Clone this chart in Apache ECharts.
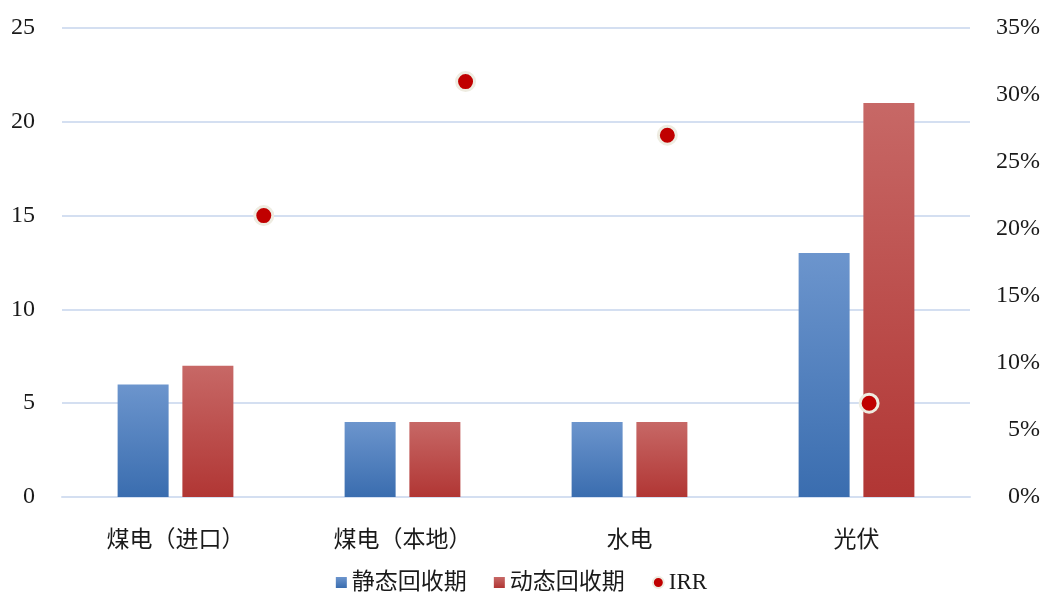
<!DOCTYPE html>
<html>
<head>
<meta charset="utf-8">
<script src="https://cdn.jsdelivr.net/npm/echarts@6/dist/echarts.min.js"></script>
<style>
  html, body { margin: 0; padding: 0; background: #fff; }
  #container { width: 1043px; height: 592px; }
</style>
</head>
<body>
<div id="container"></div>
<script>
// 类别
const categories = ['煤电（进口）', '煤电（本地）', '水电', '光伏'];
// 静态回收期（年）
const staticPayback = [6, 4, 4, 13];
// 动态回收期（年）
const dynamicPayback = [7, 4, 4, 21];
// IRR（%）
const irr = [21, 31, 27, 7];
// IRR 点的横坐标（散点图副横轴 0 ~ 4.5）
const irrX = [1, 2, 3, 4];

const font = '"Liberation Serif", "Times New Roman", "Noto Sans CJK SC", serif';

// 渐变填充
function grad(top, bottom) {
  return new echarts.graphic.LinearGradient(0, 0, 0, 1, [
    { offset: 0, color: top },
    { offset: 1, color: bottom }
  ]);
}

const myChart = echarts.init(document.getElementById('container'));

const option = {
  animation: false,
  textStyle: { fontFamily: font },
  grid: { left: 62, right: 71, top: 28, bottom: 95 },
  legend: {
    bottom: -7,
    left: 'center',
    itemWidth: 11,
    itemHeight: 11,
    itemGap: 27,
    textStyle: { fontFamily: font, fontSize: 23, color: '#1a1a1a' },
    data: [
      { name: '静态回收期', icon: 'rect' },
      { name: '动态回收期', icon: 'rect' },
      { name: 'IRR', icon: 'circle', itemStyle: { color: '#C00000', borderColor: '#EEECE1', borderWidth: 2 } }
    ]
  },
  xAxis: [
    {
      type: 'category',
      data: categories,
      axisLine: { lineStyle: { color: '#D4DFF1', width: 2 } },
      axisTick: { show: false },
      axisLabel: { fontFamily: font, fontSize: 23, color: '#1a1a1a', margin: 32 }
    },
    {
      type: 'value',
      min: 0,
      max: 4.5,
      show: false
    }
  ],
  yAxis: [
    {
      type: 'value',
      min: 0,
      max: 25,
      interval: 5,
      axisLine: { show: false },
      axisTick: { show: false },
      splitLine: { lineStyle: { color: '#D4DFF1', width: 2 } },
      axisLabel: { fontFamily: font, fontSize: 24, color: '#1a1a1a', margin: 27 }
    },
    {
      type: 'value',
      min: 0,
      max: 35,
      interval: 5,
      axisLine: { show: false },
      axisTick: { show: false },
      splitLine: { show: false },
      axisLabel: { fontFamily: font, fontSize: 24, color: '#1a1a1a', margin: 70, align: 'right', formatter: '{value}%' }
    }
  ],
  series: [
    {
      name: '静态回收期',
      type: 'bar',
      data: staticPayback,
      barWidth: 51,
      barGap: '27%',
      itemStyle: { color: grad('#6C95CD', '#3A6DAF') }
    },
    {
      name: '动态回收期',
      type: 'bar',
      data: dynamicPayback,
      barWidth: 51,
      itemStyle: { color: grad('#C76866', '#B13634') }
    },
    {
      name: 'IRR',
      type: 'scatter',
      xAxisIndex: 1,
      yAxisIndex: 1,
      data: irrX.map((x, i) => [x, irr[i]]),
      symbolSize: 18,
      itemStyle: { color: '#C00000', opacity: 1, borderColor: '#EEECE1', borderWidth: 3 }
    }
  ]
};

myChart.setOption(option);
</script>
</body>
</html>
